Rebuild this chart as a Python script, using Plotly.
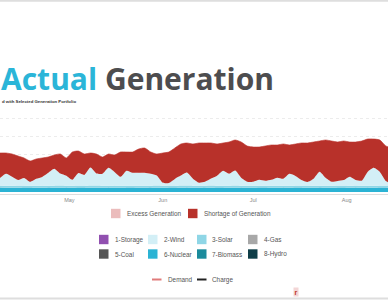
import numpy as np
import pandas as pd
import plotly.graph_objects as go

# ---------------- data ----------------
dates = pd.date_range("2019-04-08", periods=66, freq="2D")

demand = [39, 39, 38, 36, 34, 31, 33, 34, 35, 37,
          38, 34, 40, 41, 38, 39, 38, 35, 38, 37,
          40, 40, 40, 43, 44, 40, 38, 39, 40, 44,
          48, 49, 48, 49, 49, 49, 48, 49, 50, 52,
          50, 46, 45, 45, 46, 47, 47, 48, 47, 48,
          49, 49, 50, 51, 52, 51, 50, 51, 50, 50,
          51, 53, 53, 52, 46, 44]

wind = [8, 12, 9, 6, 8, 4, 7, 9, 13, 17,
        12, 10, 6, 13, 11, 18, 12, 12, 18, 14,
        9, 15, 13, 13, 13, 12, 10, 3, 3, 7,
        10, 13, 7, 3, 4, 7, 10, 15, 12, 15,
        8, 4, 4, 6, 5, 6, 8, 7, 12, 10,
        6, 4, 7, 14, 8, 4, 5, 6, 9, 6,
        5, 14, 18, 14, 5, 2]

solar = [1.9, 2.0, 2.1, 1.8, 2.0, 2.2, 2.0, 1.9, 2.1, 2.0,
         2.2, 2.1, 2.0, 1.9, 2.0, 2.2, 2.1, 2.0, 2.1, 1.9,
         2.0, 2.2, 2.3, 2.1, 2.0, 2.1, 2.2, 2.0, 1.9, 2.1,
         2.2, 2.3, 2.1, 2.0, 2.1, 2.2, 2.2, 2.1, 2.0, 2.2,
         2.1, 2.0, 1.9, 2.1, 2.2, 2.0, 2.1, 2.2, 2.0, 2.1,
         2.0, 1.9, 2.1, 2.2, 2.0, 2.1, 2.0, 1.9, 2.1, 2.0,
         2.1, 2.2, 2.0, 2.1, 1.9, 2.0]

nuclear = [4.1, 4.2, 4.2, 4.3, 4.1, 4.0, 4.2, 4.2, 4.1, 4.3,
           4.2, 4.1, 4.2, 4.0, 4.1, 4.2, 4.3, 4.2, 4.1, 4.2,
           4.2, 4.1, 4.0, 4.2, 4.3, 4.1, 4.2, 4.2, 4.1, 4.0,
           4.2, 4.1, 4.2, 4.3, 4.1, 4.2, 4.0, 4.1, 4.2, 4.2,
           4.1, 4.2, 4.3, 4.1, 4.0, 4.2, 4.2, 4.1, 4.2, 4.0,
           4.1, 4.2, 4.2, 4.1, 4.3, 4.2, 4.1, 4.0, 4.2, 4.1,
           4.2, 4.1, 4.2, 4.0, 4.1, 4.2]

month_ticks = ["2019-05-01", "2019-06-01", "2019-07-01", "2019-08-01"]
month_labels = ["May", "Jun", "Jul", "Aug"]

balance_names = ["Excess Generation", "Shortage of Generation"]
balance_colors = ["#ebbcbc", "#b8312a"]

source_names = ["1-Storage", "2-Wind", "3-Solar", "4-Gas",
                "5-Coal", "6-Nuclear", "7-Biomass", "8-Hydro"]
source_colors = ["#9150b0", "#d3eff6", "#8fd6e6", "#a8a8a8",
                 "#555555", "#2bb3d4", "#1b8b9c", "#0e3e48"]

line_names = ["Demand", "Charge"]
line_colors = ["#e07b7b", "#222222"]

# ---------------- figure ----------------
W, H = 388, 300
T, B = 110, 106
PH = H - T - B


def px(x):
    return x / W


def py(y):
    return (H - B - y) / PH


gen_total = np.array(nuclear) + np.array(solar) + np.array(wind)
shortage = np.clip(np.array(demand) - gen_total, 0, None)

fig = go.Figure()
col = dict(zip(source_names, source_colors))
for name, vals in [("6-Nuclear", nuclear), ("3-Solar", solar), ("2-Wind", wind)]:
    fig.add_trace(go.Scatter(
        x=dates, y=vals, name=name, stackgroup="gen", mode="lines",
        line=dict(width=0, shape="spline", smoothing=0.6),
        fillcolor=col[name], showlegend=False, hoverinfo="skip"))
fig.add_trace(go.Scatter(
    x=dates, y=shortage, name="Shortage of Generation", stackgroup="gen",
    mode="lines", line=dict(width=0, shape="spline", smoothing=0.6),
    fillcolor=balance_colors[1], showlegend=False, hoverinfo="skip"))
fig.add_trace(go.Scatter(
    x=dates, y=demand, name="Demand", mode="lines",
    line=dict(width=0.6, color=balance_colors[1], shape="spline", smoothing=0.6),
    showlegend=False, hoverinfo="skip"))

shapes = []
annotations = []

# page borders
shapes.append(dict(type="line", xref="paper", yref="paper", x0=px(0), x1=px(W),
                   y0=py(0.8), y1=py(0.8), line=dict(color="#dedede", width=2)))
shapes.append(dict(type="line", xref="paper", yref="paper", x0=px(0), x1=px(W),
                   y0=py(298.5), y1=py(298.5), line=dict(color="#dedede", width=2)))

# title
annotations.append(dict(
    xref="paper", yref="paper", x=px(-1.5), y=py(78.5), xanchor="left", yanchor="middle",
    showarrow=False,
    text="<b><span style='color:#2bb5d8'>Actual</span> Generation</b>",
    font=dict(family="Open Sans", size=30, color="#4d4d4f")))
annotations.append(dict(
    xref="paper", yref="paper", x=px(0), y=py(101), xanchor="left", yanchor="middle",
    showarrow=False, text="<b>d with Selected Generation Portfolio</b>",
    font=dict(family="Liberation Sans", size=4.3, color="#333333")))


def swatch(x, y, color, label):
    shapes.append(dict(type="rect", xref="paper", yref="paper",
                       x0=px(x), x1=px(x + 9.5), y0=py(y + 4.7), y1=py(y - 4.7),
                       fillcolor=color, line=dict(width=0)))
    annotations.append(dict(xref="paper", yref="paper", x=px(x + 13.5), y=py(y),
                            xanchor="left", yanchor="middle", showarrow=False,
                            text=label, font=dict(family="Liberation Sans", size=6.4,
                                                  color="#555555")))


def linekey(x, y, color, label):
    shapes.append(dict(type="line", xref="paper", yref="paper",
                       x0=px(x), x1=px(x + 9.5), y0=py(y), y1=py(y),
                       line=dict(color=color, width=2)))
    annotations.append(dict(xref="paper", yref="paper", x=px(x + 13.5), y=py(y),
                            xanchor="left", yanchor="middle", showarrow=False,
                            text=label, font=dict(family="Liberation Sans", size=6.4,
                                                  color="#555555")))


for xx, nm, cl in zip([111, 188], balance_names, balance_colors):
    swatch(xx, 213.5, cl, nm)
cols_x = [99, 148, 197, 248]
for i, (nm, cl) in enumerate(zip(source_names, source_colors)):
    swatch(cols_x[i % 4], 239.5 if i < 4 else 254, cl, nm)
for xx, nm, cl in zip([152, 197], line_names, line_colors):
    linekey(xx, 279.5, cl, nm)

# small logo mark
annotations.append(dict(xref="paper", yref="paper", x=px(295.5), y=py(292),
                        xanchor="center", yanchor="middle", showarrow=False,
                        text="<b>r</b>", bgcolor="#f3d6d6", borderpad=0.5,
                        font=dict(family="Liberation Sans", size=7, color="#c0392b")))

fig.update_layout(
    width=W, height=H,
    margin=dict(l=0, r=0, t=T, b=B, pad=0),
    paper_bgcolor="white", plot_bgcolor="white",
    showlegend=False,
    shapes=shapes, annotations=annotations,
    xaxis=dict(type="date", range=["2019-04-08", "2019-08-14 17:00"],
               tickvals=month_ticks, ticktext=month_labels,
               tickfont=dict(family="Liberation Sans", size=5.5, color="#888888"),
               showline=True, linecolor="#dddddd", linewidth=1,
               showgrid=False, zeroline=False, ticks=""),
    yaxis=dict(range=[-2, 82], tick0=2, dtick=18, showticklabels=False,
               showgrid=True, gridcolor="#ececec", griddash="dot", gridwidth=1,
               zeroline=False, showline=False),
)

fig.write_html("out.html")
